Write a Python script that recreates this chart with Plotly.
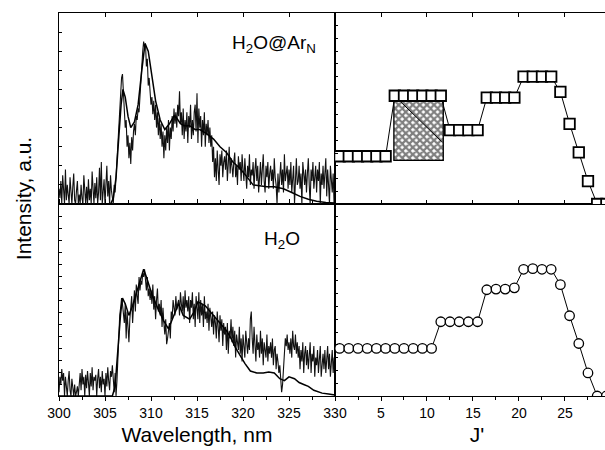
import numpy as np
import plotly.graph_objects as go

# ---------------- data ----------------
# wavelength grid (nm) for the measured spectra, 0.1 nm steps
wl_grid = np.round(np.arange(300.0, 330.05, 0.1), 1)

# measured spectrum, H2O@ArN (percent of panel height), one row per nm
exp_ar = [
    8, 3, 12, 0, 15, 5, 0, 18, 2, 10,
    4, 0, 14, 6, 0, 9, 16, 2, 0, 7,
    12, 0, 5, 0, 10, 3, 0, 15, 6, 0,
    9, 0, 13, 2, 8, 0, 17, 4, 0, 11,
    3, 14, 0, 6, 19, 2, 22, 0, 5, 13,
    0, 8, 20, 4, 12, 0, 15, 7, 2, 0,
    10, 6, 14, 22, 30, 42, 52, 60, 66, 68,
    60, 48, 40, 44, 30, 36, 24, 32, 21, 35,
    28, 38, 42, 36, 46, 44, 50, 48, 58, 62,
    70, 80, 85, 82, 84, 72, 76, 62, 66, 58,
    52, 56, 47, 54, 44, 52, 40, 48, 36, 45,
    34, 42, 30, 38, 24, 36, 28, 40, 32, 44,
    28, 40, 34, 46, 38, 50, 42, 48, 40, 52,
    46, 59, 42, 48, 36, 50, 34, 44, 38, 48,
    32, 46, 40, 52, 34, 44, 36, 48, 52, 38,
    58, 32, 50, 40, 46, 30, 44, 36, 48, 30,
    42, 36, 44, 32, 40, 30, 36, 22, 30, 14,
    24, 12, 28, 18, 10, 26, 20, 28, 14, 22,
    25, 18, 28, 12, 22, 30, 16, 24, 20, 14,
    22, 27, 14, 20, 10, 25, 18, 22, 12, 26,
    18, 12, 24, 16, 8, 20, 14, 26, 10, 18,
    15, 22, 8, 18, 24, 12, 20, 6, 16, 22,
    10, 18, 26, 12, 6, 20, 14, 22, 8, 16,
    20, 12, 18, 8, 24, 14, 10, 0, 16, 6,
    14, 22, 10, 18, 6, 26, 12, 16, 20, 8,
    18, 10, 22, 6, 14, 20, 0, 16, 24, 10,
    12, 20, 8, 16, 0, 22, 14, 10, 18, 6,
    16, 24, 10, 0, 18, 12, 22, 8, 14, 20,
    6, 18, 12, 22, 0, 16, 10, 20, 8, 14,
    24, 4, 18, 10, 0, 20, 12, 6, 16, 0,
    10,
]

# measured spectrum, free H2O (percent of panel height)
exp_h2o = [
    2, 10, 6, 14, 8, 12, 0, 10, 5, 0,
    8, 13, 3, 0, 9, 4, 0, 6, 0, 2,
    5, 0, 8, 12, 3, 14, 6, 10, 0, 11,
    4, 13, 7, 0, 12, 5, 15, 3, 10, 8,
    11, 0, 9, 14, 4, 10, 2, 13, 6, 9,
    0, 12, 5, 15, 8, 3, 13, 10, 16, 6,
    2, 12, 0, 8, 22, 35, 42, 46, 51, 48,
    42, 38, 48, 30, 44, 35, 28, 40, 46, 52,
    38, 48, 55, 44, 58, 52, 48, 62, 55, 60,
    58, 64, 62, 66, 60, 55, 62, 52, 56, 50,
    55, 48, 58, 45, 52, 40, 50, 56, 44, 48,
    42, 50, 36, 46, 38, 32, 40, 27, 30, 35,
    38, 30, 44, 40, 50, 46, 42, 52, 45, 48,
    50, 42, 54, 48, 44, 52, 40, 55, 46, 50,
    44, 52, 38, 50, 46, 54, 40, 48, 36, 52,
    46, 40, 54, 38, 50, 42, 48, 36, 52, 40,
    44, 38, 48, 34, 46, 40, 36, 44, 32, 42,
    38, 30, 44, 36, 28, 42, 34, 40, 26, 38,
    32, 36, 24, 38, 22, 34, 30, 40, 28, 36,
    26, 34, 20, 32, 28, 24, 36, 22, 30, 18,
    32, 26, 20, 34, 28, 22, 30, 24, 40, 44,
    30, 22, 36, 26, 18, 32, 24, 28, 20, 34,
    22, 30, 16, 28, 24, 20, 32, 18, 26, 22,
    28, 20, 30, 16, 24, 26, 14, 22, 18, 12,
    16, 8, 2, 6, 14, 22, 30, 26, 32, 24,
    28, 22, 30, 20, 34, 26, 24, 32, 22, 28,
    20, 26, 14, 24, 18, 28, 12, 22, 26, 16,
    24, 14, 20, 28, 12, 22, 18, 26, 10, 20,
    16, 24, 12, 20, 26, 10, 18, 22, 14, 24,
    12, 20, 26, 14, 22, 10, 18, 24, 12, 20,
    16,
]

# simulated spectra (percent of panel height)
sim_ar_wl = [300, 305.6, 305.9, 306.2, 306.5, 306.75, 306.95, 307.2, 307.5, 307.8,
             308.2, 308.6, 309.0, 309.35, 309.7, 310.1, 310.5, 311.0, 311.5, 312.0,
             312.5, 312.8, 313.2, 313.6, 314.2, 314.8, 315.3, 316.0, 316.8, 317.5,
             318.2, 318.9, 319.6, 320.3, 321.1, 321.8, 322.6, 323.4, 324.4, 325.3,
             326.2, 327.1, 328.0, 329.0, 330.0]
sim_ar = [0, 0, 3, 14, 35, 52, 60, 56, 46, 40,
          43, 52, 70, 84, 80, 66, 54, 44, 39, 42,
          46, 45, 42, 41, 41, 39, 39, 37, 34, 30,
          27, 22, 19, 15, 10, 9.5, 9, 9, 8, 6,
          4, 2.5, 1.5, 0.8, 0.5]

sim_h2o_wl = [300, 305.8, 306.1, 306.4, 306.7, 306.9, 307.2, 307.6, 308.0, 308.5,
              309.0, 309.2, 309.5, 310.1, 310.8, 311.4, 311.9, 312.5, 313.0, 313.5,
              314.2, 314.7, 315.1, 315.9, 316.8, 317.5, 318.2, 318.7, 319.2, 319.7,
              320.2, 320.8, 321.5, 322.2, 322.8, 323.4, 324.0, 324.5, 325.0, 325.6,
              326.1, 326.6, 327.1, 327.7, 328.6, 329.3, 330.0]
sim_h2o = [0, 0, 5, 25, 43, 51, 48, 42, 47, 55,
           63, 66, 62, 53, 45, 39, 35, 42, 48, 42,
           40, 44, 49, 47, 42, 38, 34, 30, 25, 21,
           17, 13, 12, 12, 12.5, 12, 9, 8, 10, 9,
           7, 6, 5, 3, 1.5, 1, 0.5]

# rotational populations vs J'
j_pos = [0.5, 1.5, 2.5, 3.5, 4.5, 5.5, 6.5, 7.5, 8.5, 9.5,
         10.5, 11.5, 12.5, 13.5, 14.5, 15.5, 16.5, 17.5, 18.5, 19.5,
         20.5, 21.5, 22.5, 23.5, 24.5, 25.5, 26.5, 27.5, 28.5, 29.5]
pop_ar = [3.75, 3.75, 3.75, 3.75, 3.75, 3.75, 8.5, 8.5, 8.5, 8.5,
          8.5, 8.5, 5.8, 5.8, 5.8, 5.8, 8.35, 8.35, 8.35, 8.35,
          10.0, 10.0, 10.0, 10.0, 8.8, 6.3, 4.05, 1.8, 0, 0]
pop_h2o = [3.72, 3.72, 3.72, 3.72, 3.72, 3.72, 3.72, 3.72, 3.72, 3.72,
           3.72, 5.8, 5.8, 5.8, 5.8, 5.8, 8.3, 8.35, 8.35, 8.45,
           9.9, 9.95, 9.9, 9.9, 8.7, 6.27, 4.1, 1.8, 0, 0]

# hatched block (J' range and intensity range) and its diagonal stroke
block_j = [6.4, 11.77]
block_i = [3.42, 8.28]
diag_j = [6.6, 11.6]
diag_i = [8.4, 4.9]

# tick labels
wl_ticks = [300, 305, 310, 315, 320, 325, 330]
j_ticks = [0, 5, 10, 15, 20, 25]
j_ticktext = [" ", "5", "10", "15", "20", "25"]

# ---------------- figure ----------------
FONT = "Liberation Sans, Arial, sans-serif"
fig = go.Figure()

fig.add_trace(go.Scatter(x=wl_grid, y=exp_ar, mode="lines",
                         line=dict(color="#111111", width=1.1), xaxis="x3", yaxis="y3"))
fig.add_trace(go.Scatter(x=sim_ar_wl, y=sim_ar, mode="lines",
                         line=dict(color="black", width=1.5), xaxis="x3", yaxis="y3"))
fig.add_trace(go.Scatter(x=wl_grid, y=exp_h2o, mode="lines",
                         line=dict(color="#111111", width=1.1), xaxis="x", yaxis="y"))
fig.add_trace(go.Scatter(x=sim_h2o_wl, y=sim_h2o, mode="lines",
                         line=dict(color="black", width=1.5), xaxis="x", yaxis="y"))

fig.add_trace(go.Bar(x=[(block_j[0] + block_j[1]) / 2], y=[block_i[1] - block_i[0]],
                     base=[block_i[0]], width=[block_j[1] - block_j[0]],
                     marker=dict(color="white", line=dict(color="black", width=1.3),
                                 pattern=dict(shape="x", fgcolor="black", bgcolor="white",
                                              size=5, solidity=0.7)),
                     xaxis="x4", yaxis="y4"))
fig.add_trace(go.Scatter(x=diag_j, y=diag_i, mode="lines",
                         line=dict(color="black", width=1), xaxis="x4", yaxis="y4"))
fig.add_trace(go.Scatter(x=j_pos, y=pop_ar, mode="lines+markers",
                         line=dict(color="black", width=1),
                         marker=dict(symbol="square", size=10.5, color="white",
                                     line=dict(color="black", width=1.8)),
                         xaxis="x4", yaxis="y4"))
fig.add_trace(go.Scatter(x=j_pos, y=pop_h2o, mode="lines+markers",
                         line=dict(color="black", width=1),
                         marker=dict(symbol="circle", size=9.5, color="white",
                                     line=dict(color="black", width=1.3)),
                         xaxis="x2", yaxis="y2"))

XL = [0, 0.5055]
XR = [0.5055, 1]
YB = [0, 0.5013]
YT = [0.5013, 1]

axis_common = dict(showline=True, linecolor="black", linewidth=1.2, showgrid=False,
                   zeroline=False, tickcolor="black", automargin=False,
                   tickfont=dict(size=14, color="black"))

fig.update_layout(
    autosize=False,
    width=605, height=450,
    margin=dict(l=59, r=0, t=13, b=54, pad=0, autoexpand=False),
    paper_bgcolor="white", plot_bgcolor="white",
    showlegend=False,
    font=dict(family=FONT, color="black"),
    barmode="overlay",
    xaxis=dict(domain=XL, range=[300, 330], anchor="y", tickvals=wl_ticks,
               ticks="outside", ticklen=4, mirror="ticks",
               minor=dict(dtick=2.5, tick0=300, ticks="outside", ticklen=3, tickcolor="black"),
               **axis_common),
    yaxis=dict(domain=YB, range=[0, 100], anchor="x", dtick=6.25, ticks="inside",
               ticklen=3, showticklabels=False, mirror=True, **axis_common),
    xaxis2=dict(domain=XR, range=[0, 29.35], anchor="y2", tickvals=j_ticks,
                ticktext=j_ticktext, ticks="outside", ticklen=4, mirror=True,
                minor=dict(dtick=2.5, tick0=0, ticks="outside", ticklen=3, tickcolor="black"),
                **axis_common),
    yaxis2=dict(domain=YB, range=[0, 15], anchor="x2", dtick=1, ticks="inside",
                ticklen=3, showticklabels=False, **axis_common),
    xaxis3=dict(domain=XL, range=[300, 330], anchor="y3", tickvals=wl_ticks,
                ticks="inside", ticklen=4, mirror="ticks", showticklabels=False,
                **axis_common),
    yaxis3=dict(domain=YT, range=[0, 100], anchor="x3", dtick=10, ticks="inside",
                ticklen=3, showticklabels=False, mirror=True, **axis_common),
    xaxis4=dict(domain=XR, range=[0, 29.35], anchor="y4", tickvals=j_ticks,
                ticks="inside", ticklen=4, mirror="ticks", showticklabels=False,
                **axis_common),
    yaxis4=dict(domain=YT, range=[0, 15], anchor="x4", dtick=1, ticks="inside",
                ticklen=3, showticklabels=False, **axis_common),
)

title_font = dict(size=21, family=FONT, color="black")
TITLE_Y = -0.0966
# outer axis titles as labels on invisible shapes (shapes never push margins)
fig.add_shape(type="line", xref="paper", yref="paper", x0=0.15, x1=0.3554,
              y0=TITLE_Y, y1=TITLE_Y, line=dict(width=0, color="rgba(0,0,0,0)"),
              label=dict(text="Wavelength, nm", textposition="middle", xanchor="center",
                         yanchor="middle", padding=0, font=title_font))
fig.add_shape(type="line", xref="paper", yref="paper", x0=0.7456, x1=0.7856,
              y0=TITLE_Y, y1=TITLE_Y, line=dict(width=0, color="rgba(0,0,0,0)"),
              label=dict(text="J'", textposition="middle", xanchor="center",
                         yanchor="middle", padding=0, font=title_font))
fig.add_shape(type="line", xref="paper", yref="paper", x0=-0.0678, x1=-0.0678,
              y0=0.40, y1=0.6314, line=dict(width=0, color="rgba(0,0,0,0)"),
              label=dict(text="Intensity, a.u.", textposition="middle", textangle=-90,
                         xanchor="center", yanchor="middle", padding=0, font=title_font))

# panel labels, anchored to data axes
fig.add_annotation(text="H<sub>2</sub>O@Ar<sub>N</sub>", xref="x3", yref="y3",
                   x=323.37, y=83.8, xanchor="center", yanchor="middle",
                   showarrow=False, font=dict(size=19, family=FONT, color="black"))
fig.add_annotation(text="H<sub>2</sub>O", xref="x", yref="y",
                   x=324.24, y=81.5, xanchor="center", yanchor="middle",
                   showarrow=False, font=dict(size=19, family=FONT, color="black"))

fig.write_html("out.html", config={"responsive": False})
